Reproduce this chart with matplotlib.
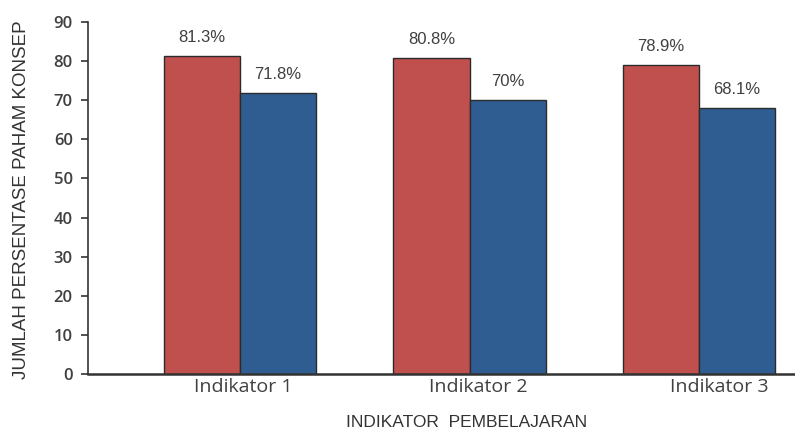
import matplotlib
matplotlib.use("Agg")
import matplotlib.pyplot as plt
import numpy as np

categories = ["Indikator 1", "Indikator 2", "Indikator 3"]
series_a = [81.3, 80.8, 78.9]
series_b = [71.8, 70.0, 68.1]
labels_a = ["81.3%", "80.8%", "78.9%"]
labels_b = ["71.8%", "70%", "68.1%"]
yticks = [0, 10, 20, 30, 40, 50, 60, 70, 80, 90]

red = "#C0504D"
blue = "#2F5D91"
txt = "#404040"

fig = plt.figure(figsize=(7.95, 4.36), dpi=100)
ax = fig.add_axes([88/795, 1-374/436, 707/795, 352/436])

x = np.arange(len(categories))
w = 0.332
ba = ax.bar(x - w/2, series_a, w, color=red, edgecolor="#2b2b2b", linewidth=1.0)
bb = ax.bar(x + w/2, series_b, w, color=blue, edgecolor="#2b2b2b", linewidth=1.0)

for rect, lab in zip(ba, labels_a):
    ax.annotate(lab, (rect.get_x() + rect.get_width()/2, rect.get_height()),
                xytext=(0, 8), textcoords="offset points", ha="center", va="bottom",
                fontsize=12, color=txt, family="Liberation Sans")
for rect, lab in zip(bb, labels_b):
    ax.annotate(lab, (rect.get_x() + rect.get_width()/2, rect.get_height()),
                xytext=(0, 8), textcoords="offset points", ha="center", va="bottom",
                fontsize=12, color=txt, family="Liberation Sans")

ax.set_xlim(-0.662, 2.418)
ax.set_ylim(0, 90)
ax.set_yticks(yticks)
ax.set_yticklabels([str(v) for v in yticks], fontsize=12, color=txt,
                   family="Open Sans", fontweight="semibold")
ax.set_xticks(x + np.array([0.015, 0.04, 0.09]))
ax.set_xticklabels(categories, fontsize=14, color=txt, family="Open Sans")
ax.tick_params(axis="x", length=0, pad=3)
ax.tick_params(axis="y", length=5, width=1.2, color="#333333", pad=6, direction="out")

for s in ["top", "right"]:
    ax.spines[s].set_visible(False)
ax.spines["left"].set_color("#333333")
ax.spines["left"].set_linewidth(1.2)
ax.spines["bottom"].set_color("#333333")
ax.spines["bottom"].set_linewidth(1.8)

fig.text(467/795, 1-422/436, "INDIKATOR  PEMBELAJARAN", ha="center", va="center",
         fontsize=12.5, color="#333333", family="Liberation Sans")
fig.text(22/795, 1-200/436, "JUMLAH PERSENTASE PAHAM KONSEP", ha="center", va="center",
         rotation=90, fontsize=13.5, color="#333333", family="Liberation Sans")

fig.savefig("out.png", dpi=100)
